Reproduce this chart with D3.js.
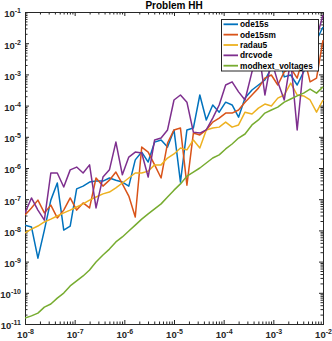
<!DOCTYPE html>
<html>
<head>
<meta charset="utf-8">
<script src="https://cdn.jsdelivr.net/npm/d3@7"></script>
<style>
  body { margin: 0; background: #fff; }
  svg { display: block; font-family: "Liberation Sans", Arial, sans-serif; }
</style>
</head>
<body>
<div id="chart"></div>
<script>
// Tolerances (log10)
const tolExp = [-8.00, -7.87, -7.74, -7.61, -7.48, -7.35, -7.22, -7.09, -6.96, -6.83,
  -6.70, -6.57, -6.43, -6.30, -6.17, -6.04, -5.91, -5.78, -5.65, -5.52,
  -5.39, -5.26, -5.13, -5.00, -4.87, -4.74, -4.61, -4.48, -4.35, -4.22,
  -4.09, -3.96, -3.83, -3.70, -3.57, -3.43, -3.30, -3.17, -3.04, -2.91,
  -2.78, -2.65, -2.52, -2.39, -2.26, -2.13, -2.00];

// Errors per solver, stored as log10 values
const ode15s = [-7.83, -7.89, -8.89, -7.99, -7.03, -6.48, -7.99, -7.86, -6.67, -6.58,
  -6.45, -6.42, -6.42, -6.32, -6.39, -6.45, -6.58, -5.74, -5.49, -5.81,
  -5.17, -5.10, -5.33, -4.78, -6.45, -4.78, -4.72, -3.66, -4.46, -3.98,
  -4.21, -3.89, -3.98, -4.37, -3.76, -3.50, -3.34, -3.18, -2.80, -2.31,
  -3.08, -3.02, -3.34, -2.92, -2.54, -1.90, -1.48];
const ode15sm = [-7.51, -7.28, -7.03, -7.44, -7.19, -7.60, -7.35, -6.96, -7.35, -7.12,
  -7.28, -6.32, -6.58, -6.39, -6.13, -6.51, -6.90, -7.57, -5.33, -5.49,
  -5.90, -6.32, -5.20, -4.78, -4.72, -6.55, -4.88, -4.94, -4.78, -4.53,
  -4.40, -4.24, -4.24, -4.14, -3.89, -3.66, -3.44, -3.12, -3.02, -3.34,
  -2.92, -2.80, -3.12, -2.38, -3.24, -3.12, -1.90];
const radau5 = [-8.08, -7.96, -7.86, -7.73, -7.64, -7.54, -7.44, -7.35, -7.25, -7.15,
  -7.03, -6.93, -6.83, -6.77, -6.64, -6.48, -6.32, -6.16, -6.16, -6.10,
  -5.90, -5.90, -5.68, -5.55, -5.36, -5.42, -5.10, -5.36, -4.78, -4.72,
  -4.69, -4.53, -4.69, -4.62, -4.21, -4.27, -4.08, -3.95, -4.01, -3.76,
  -3.66, -3.28, -3.66, -3.69, -3.82, -4.21, -3.82];
const drcvode = [-7.44, -6.96, -7.35, -7.67, -6.16, -6.16, -6.61, -6.06, -5.97, -6.16,
  -5.90, -7.28, -6.29, -6.06, -5.17, -6.22, -5.65, -5.49, -5.52, -6.29,
  -5.10, -5.04, -4.78, -3.82, -3.66, -3.89, -4.85, -4.88, -4.78, -4.40,
  -3.98, -3.34, -3.24, -3.56, -3.82, -2.92, -2.15, -3.66, -2.54, -3.24,
  -3.82, -2.54, -4.78, -2.70, -2.38, -1.83, -1.10];
const modhextVoltages = [-10.81, -10.74, -10.65, -10.46, -10.36, -10.17, -10.01, -9.78, -9.62, -9.46,
  -9.27, -9.01, -8.79, -8.60, -8.37, -8.21, -8.02, -7.83, -7.64, -7.47,
  -7.31, -7.15, -6.93, -6.71, -6.51, -6.26, -6.13, -6.00, -5.84, -5.68,
  -5.58, -5.39, -5.23, -5.04, -4.91, -4.62, -4.46, -4.24, -4.14, -4.05,
  -3.89, -3.79, -3.69, -3.60, -3.47, -3.60, -3.40];

const seriesNames = ['ode15s', 'ode15sm', 'radau5', 'drcvode', 'modhext_voltages'];
const seriesData = [ode15s, ode15sm, radau5, drcvode, modhextVoltages];
const seriesColors = ['#0072BD', '#D95319', '#EDB120', '#7E2F8E', '#77AC30'];

// Decade exponents used as tick labels
const xTickExp = [-8, -7, -6, -5, -4, -3, -2];
const yTickExp = [-11, -10, -9, -8, -7, -6, -5, -4, -3, -2, -1];

const width = 332, height = 341;
const plot = { left: 25, right: 323, top: 12, bottom: 324 };
const ink = '#262626';

// exact decades for integer exponents, plain power otherwise
const pow10 = e => Number.isInteger(e) ? Number('1e' + e) : Math.pow(10, e);

const x = d3.scaleLog().domain([1e-8, 1e-2]).range([plot.left, plot.right]);
const y = d3.scaleLog().domain([1e-11, 1e-1]).range([plot.bottom, plot.top]);

// minor ticks 2..9 in every decade
function minorTicks(exps) {
  const out = [];
  exps.slice(0, -1).forEach(e => {
    d3.range(2, 10).forEach(k => out.push(k * pow10(e)));
  });
  return out;
}

const svg = d3.select('#chart').append('svg')
  .attr('width', width)
  .attr('height', height)
  .attr('viewBox', `0 0 ${width} ${height}`);

svg.append('rect').attr('width', width).attr('height', height).attr('fill', '#fff');

svg.append('defs').append('clipPath').attr('id', 'plot-clip')
  .append('rect')
  .attr('x', plot.left).attr('y', plot.top)
  .attr('width', plot.right - plot.left + 1).attr('height', plot.bottom - plot.top + 1);

// --- axes: inward ticks on all four sides (MATLAB box on) ---
function styleAxis(g) {
  g.select('.domain').remove();
  g.selectAll('.tick line').attr('stroke', ink);
}

function addAxis(axis, tx, ty) {
  return svg.append('g')
    .attr('transform', `translate(${tx},${ty})`)
    .call(axis)
    .call(styleAxis);
}

const xMajor = xTickExp.map(pow10);
const yMajor = yTickExp.map(pow10);
const xMinor = minorTicks(xTickExp);
const yMinor = minorTicks(yTickExp);

// minor
addAxis(d3.axisBottom(x).tickValues(xMinor).tickSize(-2.5).tickFormat(''), 0, plot.bottom);
addAxis(d3.axisTop(x).tickValues(xMinor).tickSize(-2.5).tickFormat(''), 0, plot.top);
addAxis(d3.axisLeft(y).tickValues(yMinor).tickSize(-2.5).tickFormat(''), plot.left, 0);
addAxis(d3.axisRight(y).tickValues(yMinor).tickSize(-2.5).tickFormat(''), plot.right, 0);

// major
const gx = addAxis(d3.axisBottom(x).tickValues(xMajor).tickSize(-4).tickPadding(6), 0, plot.bottom);
addAxis(d3.axisTop(x).tickValues(xMajor).tickSize(-4).tickFormat(''), 0, plot.top);
const gy = addAxis(d3.axisLeft(y).tickValues(yMajor).tickSize(-4).tickPadding(4), plot.left, 0);
addAxis(d3.axisRight(y).tickValues(yMajor).tickSize(-4).tickFormat(''), plot.right, 0);

// 10^n labels with superscript
function powerLabel(sel, exps) {
  sel.selectAll('.tick text').each(function (d, i) {
    const t = d3.select(this).text('')
      .attr('fill', ink)
      .attr('font-size', 9.5)
      .attr('font-weight', 'bold');
    t.append('tspan').text('10');
    t.append('tspan').text(exps[i]).attr('font-size', 7).attr('dy', '-0.55em');
  });
}
powerLabel(gx, xTickExp);
powerLabel(gy, yTickExp);
gx.selectAll('.tick text').attr('y', 14).attr('dy', 0);
gy.selectAll('.tick text').attr('dy', 4.8);

// box
svg.append('rect')
  .attr('x', plot.left + 0.5).attr('y', plot.top + 0.5)
  .attr('width', plot.right - plot.left).attr('height', plot.bottom - plot.top)
  .attr('fill', 'none').attr('stroke', ink).attr('stroke-width', 1);

// --- lines ---
const line = d3.line()
  .x((d, i) => x(pow10(tolExp[i])))
  .y(d => y(pow10(d)));

svg.append('g').attr('clip-path', 'url(#plot-clip)')
  .selectAll('path')
  .data(seriesData)
  .join('path')
  .attr('d', d => line(d))
  .attr('fill', 'none')
  .attr('stroke', (d, i) => seriesColors[i])
  .attr('stroke-width', 1.5)
  .attr('stroke-linejoin', 'round');

// title
svg.append('text')
  .attr('x', (plot.left + plot.right) / 2)
  .attr('y', 9)
  .attr('text-anchor', 'middle')
  .attr('font-size', 10)
  .attr('font-weight', 'bold')
  .attr('fill', '#000')
  .text('Problem HH');

// --- legend ---
const legend = svg.append('g').attr('transform', 'translate(221.5,19.5)');
legend.append('rect')
  .attr('width', 97).attr('height', 51.5)
  .attr('fill', '#fff').attr('stroke', ink).attr('stroke-width', 1);

const rows = legend.selectAll('g.row')
  .data(seriesNames)
  .join('g')
  .attr('class', 'row')
  .attr('transform', (d, i) => `translate(0,${4.8 + i * 10.35})`);

rows.append('line')
  .attr('x1', 2).attr('x2', 16.5)
  .attr('stroke', (d, i) => seriesColors[i])
  .attr('stroke-width', 1.8);

rows.append('text')
  .attr('x', 18.5)
  .attr('dy', '0.35em')
  .attr('font-size', 8.3)
  .attr('font-weight', 'bold')
  .attr('fill', '#000')
  .text(d => d);
</script>
</body>
</html>
